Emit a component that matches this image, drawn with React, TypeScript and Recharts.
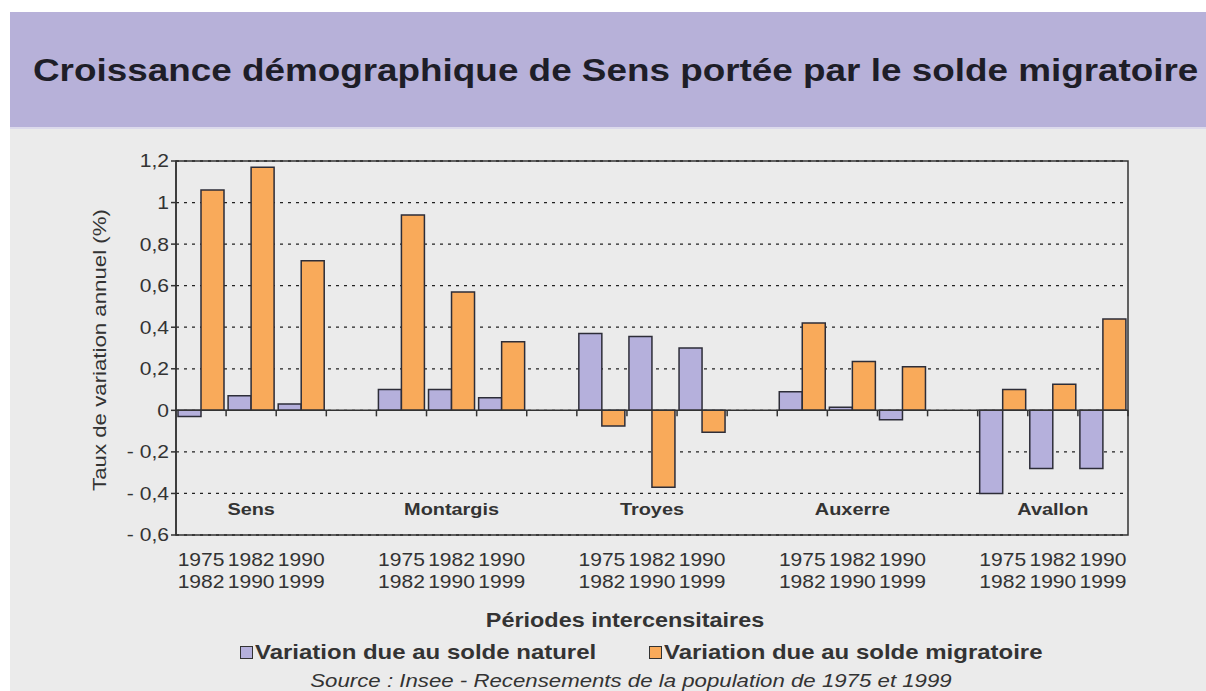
import React from "react";
import {
  BarChart,
  Bar,
  XAxis,
  YAxis,
  CartesianGrid,
  ReferenceLine,
  ReferenceArea,
} from "recharts";

const cities = ["Sens", "Montargis", "Troyes", "Auxerre", "Avallon"];
const periodStart = ["1975", "1982", "1990"];
const periodEnd = ["1982", "1990", "1999"];

// 3 periods per city, in city order
const soldeNaturel = [
  -0.03, 0.07, 0.03, 0.1, 0.1, 0.06, 0.37, 0.355, 0.3, 0.09, 0.015, -0.045,
  -0.4, -0.28, -0.28,
];
const soldeMigratoire = [
  1.06, 1.17, 0.72, 0.94, 0.57, 0.33, -0.075, -0.37, -0.105, 0.42, 0.235, 0.21,
  0.1, 0.125, 0.44,
];
const yTicks = [-0.6, -0.4, -0.2, 0, 0.2, 0.4, 0.6, 0.8, 1, 1.2];

const PURPLE = "#b5b0dc";
const ORANGE = "#f9aa5a";
const INK = "#333333";
const FONT = '"Liberation Sans", Arial, sans-serif';
// the source document uses a wider face than Arial, so text gets stretched
const SX = 1.17;

type Row = {
  key: string;
  city?: string;
  period?: number;
  naturel?: number | null;
  migratoire?: number | null;
};

// empty category between each city, like the original spreadsheet
const data: Row[] = [];
cities.forEach((city, ci) => {
  periodStart.forEach((_, p) => {
    const i = ci * 3 + p;
    data.push({
      key: `${city}-${p}`,
      city,
      period: p,
      naturel: soldeNaturel[i],
      migratoire: soldeMigratoire[i],
    });
  });
  if (ci < cities.length - 1) data.push({ key: `gap-${ci}`, naturel: null, migratoire: null });
});

const fmt = (v: number) => {
  const s = Math.abs(v).toFixed(1).replace(/\.0$/, "").replace(".", ",");
  return v < 0 ? `- ${s}` : s;
};

const XTick = (props: any) => {
  const { x, y, payload } = props;
  const row = data.find((d) => d.key === payload.value);
  if (!row || row.period === undefined) return null;
  return (
    <g transform={`translate(${x},${y}) scale(${SX},1)`} fontFamily={FONT} fill={INK}>
      {row.period === 1 && (
        <text x={0} y={-20} textAnchor="middle" fontSize={17} fontWeight="bold">
          {row.city}
        </text>
      )}
      <text x={0} y={31} textAnchor="middle" fontSize={18}>
        {periodStart[row.period]}
      </text>
      <text x={0} y={53} textAnchor="middle" fontSize={18}>
        {periodEnd[row.period]}
      </text>
    </g>
  );
};

const YTick = (props: any) => {
  const { x, y, payload } = props;
  return (
    <g transform={`translate(${x},${y}) scale(${SX},1)`}>
      <text x={0} y={0} dy="0.355em" textAnchor="end" fontSize={18} fill={INK} fontFamily={FONT}>
        {fmt(payload.value)}
      </text>
    </g>
  );
};

// zero axis with tick marks at every category boundary
const ZeroAxis = (props: any) => {
  const { x1, x2, y1 } = props;
  const n = data.length;
  const step = (x2 - x1) / n;
  return (
    <g stroke={INK} strokeWidth={1.5}>
      <line x1={x1} y1={y1} x2={x2} y2={y1} />
      {data.map((_, i) => (
        <line key={i} x1={x1 + (i + 1) * step} y1={y1} x2={x1 + (i + 1) * step} y2={y1 + 6} />
      ))}
    </g>
  );
};

const stretched = (extra = "") => `${extra} scaleX(${SX})`.trim();

export default function App() {
  return (
    <div
      style={{
        position: "absolute",
        left: 0,
        top: 0,
        width: 1206,
        height: 691,
        overflow: "hidden",
        background: "#ffffff",
        fontFamily: FONT,
      }}
    >
      <div style={{ position: "absolute", left: 10, top: 12, right: 0, height: 115, background: "#b7b1d9" }} />
      <div
        style={{
          position: "absolute",
          left: 10,
          top: 127,
          right: 0,
          bottom: 0,
          background: "#ebebeb",
          borderTop: "2px solid #dcdaec",
        }}
      />
      <div
        style={{
          position: "absolute",
          left: 33,
          top: 52,
          fontSize: 31.5,
          lineHeight: "36px",
          fontWeight: "bold",
          color: "#1e1e28",
          whiteSpace: "nowrap",
          transform: stretched(),
          transformOrigin: "left center",
        }}
      >
        Croissance démographique de Sens portée par le solde migratoire
      </div>

      <div style={{ position: "absolute", left: 0, top: 0 }}>
        <BarChart
          width={1206}
          height={691}
          data={data}
          margin={{ top: 161, right: 78, bottom: 100, left: 86 }}
          barGap={0}
          barSize={23}
        >
          <CartesianGrid
            vertical={false}
            stroke="#222"
            strokeWidth={1.3}
            strokeDasharray="3 5"
          />
          <XAxis
            dataKey="key"
            height={56}
            interval={0}
            axisLine={false}
            tickLine={false}
            tickSize={0}
            tickMargin={0}
            tick={<XTick />}
          />
          <YAxis
            width={90}
            domain={[-0.6, 1.2]}
            ticks={yTicks}
            tickSize={5}
            tickMargin={2}
            stroke={INK}
            axisLine={{ stroke: INK, strokeWidth: 1.5 }}
            tickLine={{ stroke: INK, strokeWidth: 1.5 }}
            tick={<YTick />}
          />
          <ReferenceArea y1={-0.6} y2={1.2} fill="none" stroke={INK} strokeWidth={1.5} />
          <Bar dataKey="naturel" fill={PURPLE} stroke="#2d2d38" strokeWidth={1.5} isAnimationActive={false} />
          <Bar dataKey="migratoire" fill={ORANGE} stroke="#2d2d38" strokeWidth={1.5} isAnimationActive={false} />
          <ReferenceLine y={0} shape={<ZeroAxis />} />
        </BarChart>
      </div>

      <div
        style={{
          position: "absolute",
          left: 100,
          top: 350,
          transform: "translate(-50%, -50%) rotate(-90deg) " + stretched(),
          fontSize: 19,
          color: INK,
          whiteSpace: "nowrap",
        }}
      >
        Taux de variation annuel (%)
      </div>

      <div
        style={{
          position: "absolute",
          left: 625,
          top: 620,
          transform: "translate(-50%, -50%) " + stretched(),
          fontSize: 20,
          fontWeight: "bold",
          color: INK,
          whiteSpace: "nowrap",
        }}
      >
        Périodes intercensitaires
      </div>

      {[
        { label: "Variation due au solde naturel", color: PURPLE, left: 240 },
        { label: "Variation due au solde migratoire", color: ORANGE, left: 649 },
      ].map((item) => (
        <div
          key={item.label}
          style={{
            position: "absolute",
            left: item.left,
            top: 641,
            height: 22,
            display: "flex",
            alignItems: "center",
            color: INK,
            whiteSpace: "nowrap",
          }}
        >
          <span
            style={{
              display: "inline-block",
              width: 11,
              height: 11,
              background: item.color,
              border: "1.5px solid #333",
              marginRight: 2,
            }}
          />
          <span
            style={{
              display: "inline-block",
              fontSize: 20.5,
              fontWeight: "bold",
              transform: stretched(),
              transformOrigin: "left center",
            }}
          >
            {item.label}
          </span>
        </div>
      ))}

      <div
        style={{
          position: "absolute",
          left: 631,
          top: 680,
          transform: "translate(-50%, -50%) " + stretched(),
          fontSize: 19,
          lineHeight: "19px",
          fontStyle: "italic",
          color: INK,
          whiteSpace: "nowrap",
        }}
      >
        Source : Insee - Recensements de la population de 1975 et 1999
      </div>
    </div>
  );
}
